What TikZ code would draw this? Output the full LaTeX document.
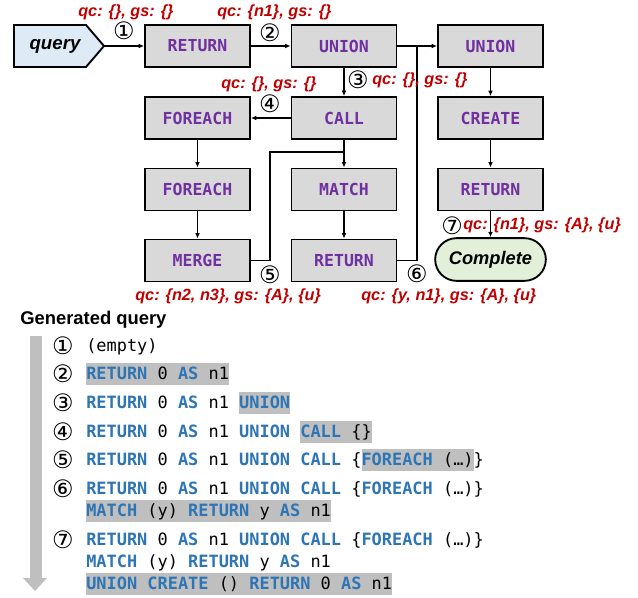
\documentclass[tikz,border=0pt]{standalone}
\usepackage{fontspec}
\setmainfont{Liberation Sans}
\setmonofont{DejaVu Sans Mono}
\newfontfamily\circfont{DejaVu Sans}
\usetikzlibrary{arrows.meta}
\definecolor{opgray}{HTML}{D9D9D9}
\definecolor{opviolet}{HTML}{7030A0}
\definecolor{qcred}{HTML}{C00000}
\definecolor{kwblue}{HTML}{2E75B6}
\definecolor{hlgray}{HTML}{BFBFBF}
\definecolor{startblue}{HTML}{DEEBF7}
\definecolor{endgreen}{HTML}{E2F0D9}
\newcommand\kw[1]{{\bfseries\color{kwblue}#1}}
\newcommand\hl[1]{{\setlength{\fboxsep}{0pt}\colorbox{hlgray}{\rule[-4.1pt]{0pt}{15.9pt}#1}}}

\begin{document}
\begin{tikzpicture}[x=0.75pt,y=-0.75pt,
		opbox/.style={draw=black,line width=1.4pt,fill=opgray,minimum width=78.75pt,minimum height=31.5pt,inner sep=0pt,text=opviolet,font=\ttfamily\bfseries\fontsize{12.4}{14}\selectfont},
		arr/.style={-{Latex[length=4pt,width=3.5pt]},line width=0.8pt},
		wire/.style={line width=0.8pt},
		qclabel/.style={anchor=west,inner sep=0pt,text=qcred,font=\bfseries\itshape\fontsize{12.2}{14}\selectfont},
		numlabel/.style={inner sep=0pt,font=\circfont\fontsize{18}{20}\selectfont},
		codeline/.style={anchor=west,inner sep=0pt,text height=11.8pt,text depth=4.1pt,font=\ttfamily\fontsize{12.7}{15}\selectfont}]
			%%%%% START %%%%%
			\useasboundingbox (0,0) rectangle (638,598);
			
			\draw[line width=1.4pt, fill=startblue] (14,25) -- (86,25) -- (104,46) -- (86,67) -- (14,67) -- cycle;
			\node[font=\bfseries\itshape\fontsize{14}{16}\selectfont] (query) at (55,46) {query};
			\coordinate (qtip) at (104,46);
			
			\node[opbox] (ret1) at (197.5,46) {RETURN};
			\node[opbox] (uni1) at (344,46) {UNION};
			\node[opbox] (uni2) at (490.5,46) {UNION};
			
			\node[opbox] (fe1) at (197.5,118) {FOREACH};
			\node[opbox] (call) at (344,118) {CALL};
			\node[opbox] (create) at (490.5,118) {CREATE};
			
			\node[opbox] (fe2) at (197.5,189.5) {FOREACH};
			\node[opbox] (match) at (344,189.5) {MATCH};
			\node[opbox] (ret3) at (490.5,189.5) {RETURN};
			
			\node[opbox] (merge) at (197.5,260.5) {MERGE};
			\node[opbox] (ret2) at (344,260.5) {RETURN};
			\node[draw, line width=1.4pt, fill=endgreen, rounded corners=16pt, minimum width=83pt, minimum height=32pt, font=\bfseries\itshape\fontsize{13.7}{16}\selectfont] (done) at (490.5,259.5) {Complete};
			
			\coordinate (j5) at (270,152);
			\coordinate (k5) at (344,152);
			\coordinate (j6) at (417,46);
			
			\draw[arr] (qtip) -- (ret1);
			\draw[arr] (ret1) -- (uni1);
			\draw[arr] (uni1) -- (uni2);
			\draw[arr] (uni1) -- (call);
			\draw[arr] (call) -- (fe1);
			\draw[arr] (fe1) -- (fe2);
			\draw[arr] (fe2) -- (merge);
			\draw[arr] (call) -- (match);
			\draw[wire] (merge.east) -| (j5) -- (k5);
			\draw[arr] (match) -- (ret2);
			\draw[wire] (ret2.east) -| (j6);
			\draw[arr] (uni2) -- (create);
			\draw[arr] (create) -- (ret3);
			\draw[arr] (ret3) -- (done);
			
			\node[numlabel] (s1) at (124,31) {①};
			\node[numlabel] (s2) at (270,33) {②};
			\node[numlabel] (s3) at (358,80) {③};
			\node[numlabel] (s4) at (270,104) {④};
			\node[numlabel] (s5) at (270,275) {⑤};
			\node[numlabel] (s6) at (417,274) {⑥};
			\node[numlabel] (s7) at (452,226) {⑦};
			
			\node[qclabel] (qc1) at (78,12) {qc: \{\}, gs: \{\}};
			\node[qclabel] (qc2) at (217,12) {qc: \{n1\}, gs: \{\}};
			\node[qclabel] (qc3) at (372,80) {qc: \{\}, gs: \{\}};
			\node[qclabel] (qc4) at (221,84) {qc: \{\}, gs: \{\}};
			\node[qclabel] (qc5) at (135,296) {qc: \{n2, n3\}, gs: \{A\}, \{u\}};
			\node[qclabel] (qc6) at (361,296) {qc: \{y, n1\}, gs: \{A\}, \{u\}};
			\node[qclabel] (qc7) at (463,225) {qc: \{n1\}, gs: \{A\}, \{u\}};
			
			% generated query
			\node[anchor=west, inner sep=0pt, font=\bfseries\fontsize{13.8}{16}\selectfont] (gen) at (20,320) {Generated query};
			\fill[hlgray] (30,336) rectangle (42,578);
			\fill[hlgray] (23,578) -- (47,578) -- (35,591) -- cycle;
			
			\node[numlabel] (t1) at (63,346) {①};
			\node[numlabel] (t2) at (63,374) {②};
			\node[numlabel] (t3) at (63,403) {③};
			\node[numlabel] (t4) at (63,432) {④};
			\node[numlabel] (t5) at (63,460) {⑤};
			\node[numlabel] (t6) at (63,489) {⑥};
			\node[numlabel] (t7) at (63,540) {⑦};
			
			\node[codeline] (g1) at (86,346) {(empty)};
			\node[codeline] (g2) at (86,374) {\hl{\kw{RETURN} 0 \kw{AS} n1}};
			\node[codeline] (g3) at (86,403) {\kw{RETURN} 0 \kw{AS} n1 \hl{\kw{UNION}}};
			\node[codeline] (g4) at (86,432) {\kw{RETURN} 0 \kw{AS} n1 \kw{UNION} \hl{\kw{CALL} \{\}}};
			\node[codeline] (g5) at (86,460) {\kw{RETURN} 0 \kw{AS} n1 \kw{UNION} \kw{CALL} \{\hl{\kw{FOREACH} (…)}\}};
			\node[codeline] (g6) at (86,489) {\kw{RETURN} 0 \kw{AS} n1 \kw{UNION} \kw{CALL} \{\kw{FOREACH} (…)\}};
			\node[codeline] (g6b) at (86,511) {\hl{\kw{MATCH} (y) \kw{RETURN} y \kw{AS} n1}};
			\node[codeline] (g7) at (86,540) {\kw{RETURN} 0 \kw{AS} n1 \kw{UNION} \kw{CALL} \{\kw{FOREACH} (…)\}};
			\node[codeline] (g7b) at (86,562) {\kw{MATCH} (y) \kw{RETURN} y \kw{AS} n1};
			\node[codeline] (g7c) at (86,584) {\hl{\kw{UNION} \kw{CREATE} () \kw{RETURN} 0 \kw{AS} n1}};
			
			%%%%% END %%%%%
\end{tikzpicture}
\end{document}
